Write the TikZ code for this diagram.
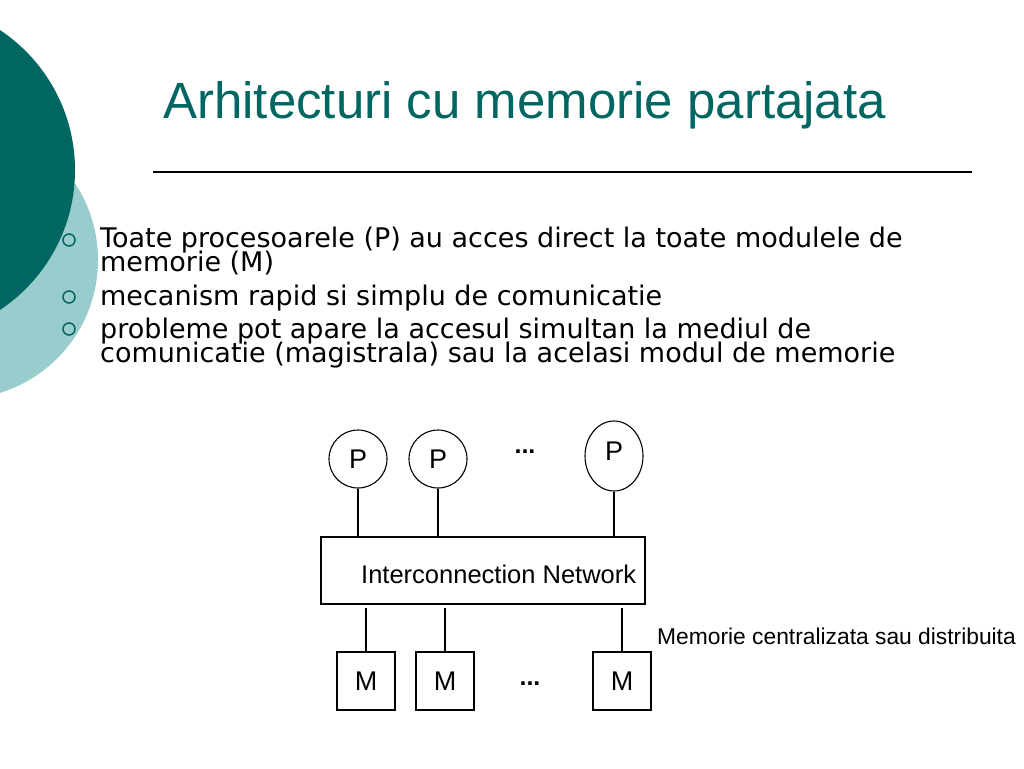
\documentclass[tikz,border=0pt]{standalone}
\usepackage{fontspec}
\setmainfont{Liberation Sans}
\newfontfamily\bulletfont{DejaVu Sans}
\usepackage{xcolor}
\usetikzlibrary{positioning,shapes.geometric}
\definecolor{tealdark}{RGB}{0,102,98}
\definecolor{teallight}{RGB}{153,204,204}

\begin{document}
\begin{tikzpicture}[
  x=1pt, y=-1pt,
  proc/.style={draw, ellipse, line width=1.1pt, minimum width=58pt, minimum height=58pt, inner sep=0pt, font=\fontsize{27}{27}\selectfont},
  mem/.style={draw, line width=1.1pt, minimum width=58pt, minimum height=58pt, inner sep=0pt, font=\fontsize{27}{27}\selectfont},
  net/.style={draw, line width=1.1pt, minimum width=324pt, minimum height=67pt, inner sep=0pt},
  link/.style={line width=1.1pt},
  dots/.style={font=\bfseries\fontsize{25}{25}\selectfont},
  bul/.style={draw=tealdark, line width=1.5pt},
  txt/.style={anchor=base west, inner sep=0pt, font=\bulletfont\fontsize{27}{27}\selectfont}
]
  \clip (0,0) rectangle (1024,768);
  \fill[white] (0,0) rectangle (1024,768);
  % background circles
  \fill[teallight] (-41,260) circle (139);
  \fill[tealdark] (-93,170) circle (168);
  % title
  \node[anchor=base west, inner sep=0pt, text=tealdark, font=\fontsize{51}{51}\selectfont] (title) at (163,118) {Arhitecturi cu memorie partajata};
  \draw[line width=1.2pt] (153,172) -- (972,172);
  % bullets
  \draw[bul] (69,240) circle (6);
  \draw[bul] (69,297) circle (6);
  \draw[bul] (69,329) circle (6);
  \node[txt] (t1) at (100,247) {Toate procesoarele (P) au acces direct la toate modulele de};
  \node[txt] (t2) at (100,271) {memorie (M)};
  \node[txt] (t3) at (100,305) {mecanism rapid si simplu de comunicatie};
  \node[txt] (t4) at (100,338) {probleme pot apare la accesul simultan la mediul de};
  \node[txt] (t5) at (100,362) {comunicatie (magistrala) sau la acelasi modul de memorie};
  % processors
  \node[proc] (p1) at (358,459) {P};
  \node[proc] (p2) at (438,459) {P};
  \node[proc, minimum height=70pt, text depth=10pt] (p3) at (614,456) {P};
  \node[dots] (pdots) at (525,452) {...};
  % network
  \node[net] (net) at (483,570.5) {};
  \node[anchor=base west, inner sep=0pt, font=\fontsize{25.5}{25.5}\selectfont] (netlbl) at (361,583) {Interconnection Network};
  % memories
  \node[mem] (m1) at (366,681) {M};
  \node[mem] (m2) at (445,681) {M};
  \node[mem] (m3) at (622,681) {M};
  \node[dots] (mdots) at (530,684) {...};
  \node[anchor=base west, inner sep=0pt, font=\fontsize{22.8}{22.8}\selectfont] (memlbl) at (657,644) {Memorie centralizata sau distribuita};
  % links
  \draw[link] (p1.south) -- (p1.south |- net.north);
  \draw[link] (p2.south) -- (p2.south |- net.north);
  \draw[link] (p3.south) -- (p3.south |- net.north);
  \draw[link] ([yshift=-3pt]m1.north |- net.south) -- (m1.north);
  \draw[link] ([yshift=-3pt]m2.north |- net.south) -- (m2.north);
  \draw[link] ([yshift=-3pt]m3.north |- net.south) -- (m3.north);
\end{tikzpicture}
\end{document}
